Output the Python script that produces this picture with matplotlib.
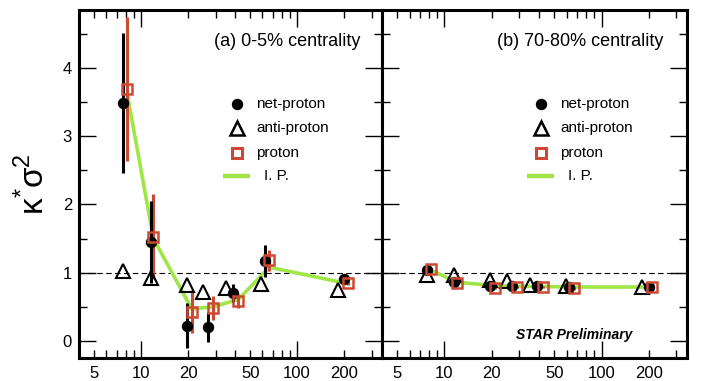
import numpy as np
import matplotlib
matplotlib.use("Agg")
import matplotlib.pyplot as plt
from matplotlib.ticker import FixedLocator, NullFormatter

plt.rcParams['font.family'] = ['Liberation Sans', 'DejaVu Sans']
plt.rcParams['mathtext.fontset'] = 'custom'
plt.rcParams['mathtext.rm'] = 'Liberation Sans'

# Collision energies (GeV) and plotting positions per species
energy = [7.7, 11.5, 19.6, 27, 39, 62.4, 200]
x_anti = [7.7, 11.5, 19.6, 25, 35, 59, 182]
x_proton = [8.15, 12.0, 21.1, 29.1, 42.1, 66.4, 211]

# (a) 0-5% centrality
a_net = [3.49, 1.45, 0.22, 0.21, 0.70, 1.17, 0.91]
a_net_err = [1.03, 0.60, 0.33, 0.22, 0.13, 0.23, 0.03]
a_anti = [1.03, 0.92, 0.82, 0.71, 0.77, 0.84, 0.74]
a_proton = [3.69, 1.53, 0.43, 0.48, 0.59, 1.18, 0.85]
a_proton_err = [1.06, 0.62, 0.31, 0.18, 0.10, 0.16, 0.03]
a_lp = [3.62, 1.50, 0.47, 0.50, 0.61, 1.08, 0.84]

# (b) 70-80% centrality
b_net = [1.04, 0.87, 0.80, 0.81, 0.80, 0.79, 0.79]
b_net_err = [0.02, 0.02, 0.02, 0.02, 0.02, 0.02, 0.02]
b_anti = [0.97, 0.96, 0.90, 0.88, 0.82, 0.80, 0.79]
b_proton = [1.05, 0.85, 0.78, 0.79, 0.79, 0.77, 0.79]
b_proton_err = [0.02, 0.02, 0.02, 0.02, 0.02, 0.02, 0.02]
b_lp = [1.04, 0.86, 0.81, 0.80, 0.80, 0.79, 0.79]

xtick_vals = [5, 10, 20, 50, 100, 200]
xtick_labels = ['5', '10', '20', '50', '100', '200']
ytick_vals = [0, 1, 2, 3, 4]
ytick_labels = ['0', '1', '2', '3', '4']

RED = '#cc4a33'
GREEN = '#9fe646'

W, H = 709, 381
fig = plt.figure(figsize=(W / 100, H / 100), dpi=100)
left_px, mid_px, right_px = 79, 382, 687
top_px, bot_px = 10, 358
ax_a = fig.add_axes([left_px / W, (H - bot_px) / H, (mid_px - left_px) / W, (bot_px - top_px) / H])
ax_b = fig.add_axes([mid_px / W, (H - bot_px) / H, (right_px - mid_px) / W, (bot_px - top_px) / H])


def draw_panel(ax, net, net_err, anti, proton, proton_err, lp, title, title_x):
    ax.set_xscale('log')
    ax.set_xlim(4.0, 350)
    ax.set_ylim(-0.25, 4.85)
    ax.axhline(1.0, color='black', lw=0.8, ls=(0, (5, 3)), zorder=1)
    ax.plot(x_proton, lp, color=GREEN, lw=2.6, zorder=2, solid_capstyle='butt')
    ax.errorbar(energy, net, yerr=net_err, fmt='o', color='black', ms=7.2,
                elinewidth=2.2, capsize=0, zorder=4)
    ax.plot(x_anti, anti, ls='none', marker='^', ms=9.5, mfc='none', mec='black',
            mew=1.5, zorder=5)
    ax.errorbar(x_proton, proton, yerr=proton_err, fmt='none', ecolor=RED,
                elinewidth=2.2, capsize=0, zorder=3)
    ax.plot(x_proton, proton, ls='none', marker='s', ms=7.5, mfc='none', mec=RED,
            mew=1.8, zorder=6)

    for s in ax.spines.values():
        s.set_linewidth(2.2)

    ax.xaxis.set_major_locator(FixedLocator([10, 100]))
    ax.xaxis.set_minor_locator(FixedLocator([5, 6, 7, 8, 9, 20, 30, 40, 50, 60, 70, 80, 90, 200, 300]))
    ax.xaxis.set_major_formatter(NullFormatter())
    ax.xaxis.set_minor_formatter(NullFormatter())
    ax.yaxis.set_major_locator(FixedLocator(ytick_vals))
    ax.yaxis.set_minor_locator(FixedLocator([0.5, 1.5, 2.5, 3.5, 4.5]))
    ax.tick_params(which='major', direction='in', length=12, width=1.0,
                   top=True, right=True, labelsize=12)
    ax.tick_params(which='minor', direction='in', length=6, width=1.0,
                   top=True, right=True)
    for v, lab in zip(xtick_vals, xtick_labels):
        ax.annotate(lab, xy=(v, 0), xycoords=('data', 'axes fraction'),
                    xytext=(0, -5.5), textcoords='offset points',
                    ha='center', va='top', fontsize=12)

    ax.text(title_x, 0.91, title, transform=ax.transAxes, ha='right', va='center', fontsize=13)

    # legend drawn as individual rows
    lx, tx = 0.52, 0.585
    rows = [0.73, 0.66, 0.59, 0.523]
    trans = ax.transAxes
    ax.plot([lx], [rows[0]], transform=trans, marker='o', ms=7.2, color='black', clip_on=False)
    ax.plot([lx], [rows[1]], transform=trans, marker='^', ms=9.5, mfc='none', mec='black', mew=1.8, clip_on=False)
    ax.plot([lx], [rows[2]], transform=trans, marker='s', ms=7.5, mfc='white', mec=RED, mew=2.2, clip_on=False)
    ax.plot([lx - 0.045, lx + 0.045], [rows[3], rows[3]], transform=trans, color=GREEN, lw=3.2,
            solid_capstyle='butt')
    for r, lab in zip(rows, ['net-proton', 'anti-proton', 'proton', 'I. P.']):
        ax.text(tx if lab != 'I. P.' else tx + 0.025, r, lab, transform=trans, ha='left', va='center',
                fontsize=11)


draw_panel(ax_a, a_net, a_net_err, a_anti, a_proton, a_proton_err, a_lp, '(a) 0-5% centrality', 0.927)
draw_panel(ax_b, b_net, b_net_err, b_anti, b_proton, b_proton_err, b_lp, '(b) 70-80% centrality', 0.921)

ax_a.tick_params(axis='y', which='major', labelleft=True, pad=5)
ax_b.tick_params(axis='y', which='both', labelleft=False)
ax_a.set_yticklabels(ytick_labels)

ax_a.set_ylabel('κ$^{*}$σ$^{2}$', fontsize=24, labelpad=8)

ax_b.text(0.44, 0.065, 'STAR Preliminary', transform=ax_b.transAxes, ha='left', va='center',
          fontsize=10, fontweight='bold', fontstyle='italic')

fig.savefig('out.png', dpi=100)
